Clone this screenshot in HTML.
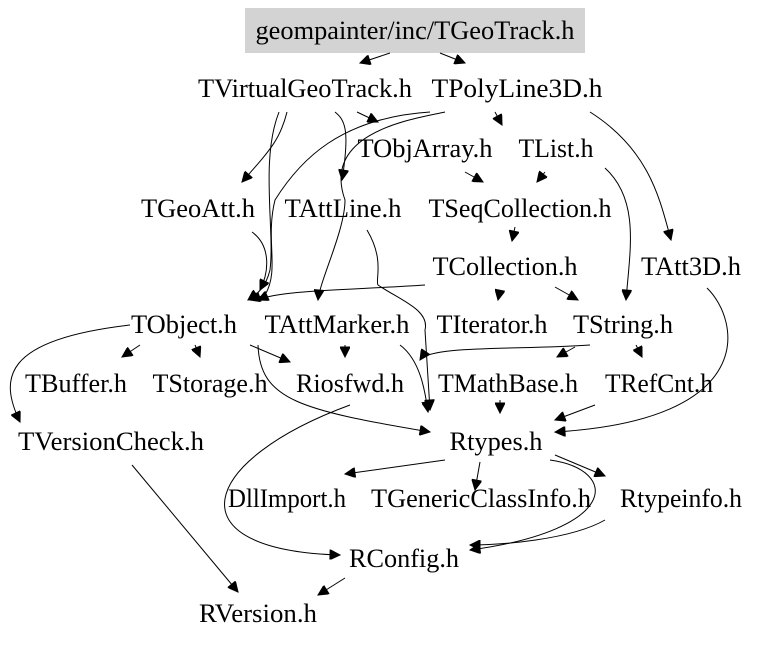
<!DOCTYPE html>
<html><head><meta charset="utf-8"><style>
html,body{margin:0;padding:0;background:#fff;}
svg{display:block;}
text{font-family:"Liberation Serif",serif;font-size:26px;fill:#000;text-anchor:middle;}
path{fill:none;stroke:#000;stroke-width:1;}
</style></head><body>
<svg width="761" height="645" viewBox="0 0 761 645" xmlns="http://www.w3.org/2000/svg">
<defs><marker id="a" viewBox="0 0 10 10" refX="10" refY="5" markerWidth="14" markerHeight="10" orient="auto" markerUnits="userSpaceOnUse"><path d="M0,0 L10,5 L0,10 z" style="fill:#000;stroke:#000"/></marker></defs>
<rect x="245" y="8" width="340" height="45" fill="#d3d3d3"/>
<text x="415" y="39" textLength="319" lengthAdjust="spacingAndGlyphs">geompainter/inc/TGeoTrack.h</text>
<text x="305" y="97" textLength="214" lengthAdjust="spacingAndGlyphs">TVirtualGeoTrack.h</text>
<text x="517" y="97" textLength="171" lengthAdjust="spacingAndGlyphs">TPolyLine3D.h</text>
<text x="425" y="157" textLength="135" lengthAdjust="spacingAndGlyphs">TObjArray.h</text>
<text x="556" y="157" textLength="75" lengthAdjust="spacingAndGlyphs">TList.h</text>
<text x="198" y="217" textLength="114" lengthAdjust="spacingAndGlyphs">TGeoAtt.h</text>
<text x="343" y="217" textLength="117" lengthAdjust="spacingAndGlyphs">TAttLine.h</text>
<text x="520" y="217" textLength="183" lengthAdjust="spacingAndGlyphs">TSeqCollection.h</text>
<text x="505" y="275" textLength="145" lengthAdjust="spacingAndGlyphs">TCollection.h</text>
<text x="691" y="275" textLength="100" lengthAdjust="spacingAndGlyphs">TAtt3D.h</text>
<text x="184" y="333" textLength="106" lengthAdjust="spacingAndGlyphs">TObject.h</text>
<text x="337" y="333" textLength="145" lengthAdjust="spacingAndGlyphs">TAttMarker.h</text>
<text x="492" y="333" textLength="111" lengthAdjust="spacingAndGlyphs">TIterator.h</text>
<text x="623" y="333" textLength="100" lengthAdjust="spacingAndGlyphs">TString.h</text>
<text x="76" y="392" textLength="102" lengthAdjust="spacingAndGlyphs">TBuffer.h</text>
<text x="210" y="392" textLength="115" lengthAdjust="spacingAndGlyphs">TStorage.h</text>
<text x="350" y="392" textLength="108" lengthAdjust="spacingAndGlyphs">Riosfwd.h</text>
<text x="508" y="392" textLength="140" lengthAdjust="spacingAndGlyphs">TMathBase.h</text>
<text x="659" y="392" textLength="108" lengthAdjust="spacingAndGlyphs">TRefCnt.h</text>
<text x="111" y="450" textLength="186" lengthAdjust="spacingAndGlyphs">TVersionCheck.h</text>
<text x="496" y="450" textLength="93" lengthAdjust="spacingAndGlyphs">Rtypes.h</text>
<text x="287" y="507" textLength="118" lengthAdjust="spacingAndGlyphs">DllImport.h</text>
<text x="481" y="507" textLength="220" lengthAdjust="spacingAndGlyphs">TGenericClassInfo.h</text>
<text x="681" y="507" textLength="122" lengthAdjust="spacingAndGlyphs">Rtypeinfo.h</text>
<text x="404" y="567" textLength="110" lengthAdjust="spacingAndGlyphs">RConfig.h</text>
<text x="258" y="622" textLength="118" lengthAdjust="spacingAndGlyphs">RVersion.h</text>
<g marker-end="url(#a)">
<path d="M390,53 L360,63"/>
<path d="M440,53 L465,63"/>
<path d="M287,112 C280,140 270,150 242,182"/>
<path d="M279,112 C260,160 275,230 270,270 C265,290 255,295 248,300"/>
<path d="M335,112 C345,120 350,130 342,180"/>
<path d="M357,112 L378,122"/>
<path d="M430,112 C340,118 300,160 275,200 C265,240 280,270 265,295 L250,300"/>
<path d="M445,112 C420,118 320,130 345,200 C345,230 320,280 318,300"/>
<path d="M495,112 L502,125"/>
<path d="M590,112 C650,150 660,200 671,240"/>
<path d="M465,172 L483,182"/>
<path d="M545,172 L537,182"/>
<path d="M605,168 C640,200 630,250 626,300"/>
<path d="M252,232 C270,245 270,270 260,290"/>
<path d="M367,230 C385,260 375,280 378,285 C400,300 430,310 425,330 L430,410"/>
<path d="M515,227 L512,241"/>
<path d="M425,285 C350,290 280,290 258,300"/>
<path d="M500,290 L498,300"/>
<path d="M555,287 L578,300"/>
<path d="M707,288 C740,320 760,420 555,432"/>
<path d="M140,345 L122,357"/>
<path d="M195,345 L200,357"/>
<path d="M250,345 L290,362"/>
<path d="M130,325 C0,340 0,380 20,422"/>
<path d="M258,345 C260,400 300,410 430,432"/>
<path d="M345,345 L345,357"/>
<path d="M400,345 C420,360 425,390 428,412"/>
<path d="M590,345 C520,350 430,345 420,360"/>
<path d="M575,347 L557,357"/>
<path d="M636,345 L642,357"/>
<path d="M500,400 L500,413"/>
<path d="M595,405 L555,420"/>
<path d="M350,405 C200,460 170,550 340,555"/>
<path d="M445,460 L345,474"/>
<path d="M480,462 L475,490"/>
<path d="M555,455 L605,476"/>
<path d="M550,460 C620,470 620,530 470,550"/>
<path d="M605,520 C570,540 500,545 470,545"/>
<path d="M132,465 L238,592"/>
<path d="M345,578 L318,595"/>
</g>
</svg>
</body></html>
